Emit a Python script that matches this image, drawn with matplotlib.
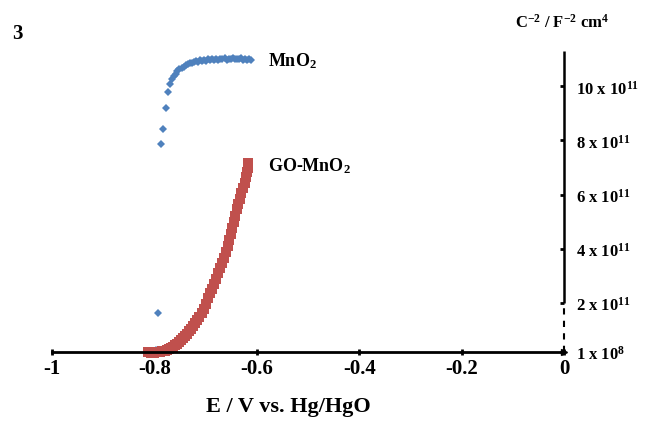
import numpy as np
import matplotlib
matplotlib.use("Agg")
import matplotlib.pyplot as plt

plt.rcParams["font.family"] = ["Liberation Serif", "DejaVu Serif"]
plt.rcParams["font.weight"] = "bold"
plt.rcParams["mathtext.fontset"] = "custom"
plt.rcParams["mathtext.rm"] = "Liberation Serif:bold"
plt.rcParams["mathtext.it"] = "Liberation Serif:bold"
plt.rcParams["mathtext.bf"] = "Liberation Serif:bold"

# Mott-Schottky data, C^-2 in units of 1e11 F^-2 cm^4
mno2_E = [-0.796, -0.792, -0.788, -0.783, -0.778, -0.773, -0.769, -0.765, -0.762,
          -0.758, -0.755, -0.751, -0.747, -0.743, -0.739, -0.735, -0.731, -0.727,
          -0.723, -0.719, -0.715, -0.711, -0.707, -0.703, -0.699, -0.695, -0.691,
          -0.687, -0.683, -0.679, -0.675, -0.671, -0.667, -0.663, -0.659, -0.655,
          -0.651, -0.647, -0.643, -0.639, -0.635, -0.631, -0.627, -0.623, -0.619,
          -0.615, -0.611]
mno2_C = [0.28, 1.62, 7.86, 8.44, 9.20, 9.77, 10.08, 10.25, 10.38,
          10.47, 10.55, 10.62, 10.68, 10.72, 10.78, 10.81, 10.84, 10.87,
          10.88, 10.92, 10.90, 10.95, 10.93, 10.97, 10.94, 10.99, 10.96,
          11.00, 10.97, 11.01, 10.98, 11.02, 10.99, 11.03, 10.98, 11.02,
          11.00, 11.04, 10.99, 11.02, 11.00, 11.03, 10.98, 11.01, 10.97,
          10.99, 10.96]

go_E = [-0.812, -0.806, -0.800, -0.795, -0.790, -0.785, -0.780, -0.776, -0.772,
        -0.768, -0.764, -0.760, -0.756, -0.752, -0.748, -0.744, -0.740, -0.736,
        -0.732, -0.728, -0.724, -0.720, -0.716, -0.712, -0.708, -0.704, -0.700,
        -0.696, -0.692, -0.688, -0.684, -0.680, -0.676, -0.672, -0.668, -0.664,
        -0.660, -0.657, -0.654, -0.651, -0.648, -0.645, -0.642, -0.639, -0.636,
        -0.633, -0.630, -0.627, -0.624, -0.622, -0.620, -0.618, -0.617]
go_C = [0.19, 0.18, 0.18, 0.19, 0.20, 0.22, 0.24, 0.27, 0.31,
        0.35, 0.40, 0.45, 0.51, 0.57, 0.64, 0.71, 0.79, 0.87,
        0.96, 1.05, 1.15, 1.26, 1.37, 1.49, 1.62, 1.79, 1.98,
        2.18, 2.36, 2.53, 2.72, 2.91, 3.10, 3.29, 3.48, 3.67,
        3.88, 4.10, 4.32, 4.54, 4.76, 4.98, 5.20, 5.46, 5.66,
        5.86, 6.05, 6.25, 6.45, 6.64, 6.82, 7.00, 7.18]

x_ticks = [-1, -0.8, -0.6, -0.4, -0.2, 0]
x_labels = ["-1", "-0.8", "-0.6", "-0.4", "-0.2", "0"]
y_ticks = [0.2, 2, 4, 6, 8, 10]
y_labels = [r"1 x 10$^{8}$", r"2 x 10$^{11}$", r"4 x 10$^{11}$",
            r"6 x 10$^{11}$", r"8 x 10$^{11}$", r"10 x 10$^{11}$"]

YBOT, YTOP = 0.2, 11.3

fig = plt.figure(figsize=(6.48, 4.27), dpi=100)
ax = fig.add_axes([52 / 648, 1 - 353 / 427, 512 / 648, (353 - 52) / 427])

ax.plot(mno2_E, mno2_C, "D", color="#4F81BD", markersize=4.5,
        markeredgewidth=0, clip_on=False, zorder=3)
ax.plot(go_E, go_C, "s", color="#C0504D", markersize=6.8,
        markeredgewidth=0, clip_on=False, zorder=3)

ax.set_xlim(-1.0, 0)
ax.set_ylim(YBOT, YTOP)

for s in ["top", "left", "right"]:
    ax.spines[s].set_visible(False)
ax.spines["bottom"].set_linewidth(2)
ax.spines["bottom"].set_zorder(4)

# broken y axis at x = 0
ax.vlines(0, 2, YTOP, color="black", linewidth=1.8, clip_on=False)
ax.vlines(0, YBOT, 2, color="black", linewidth=1.5, linestyles=(0, (3, 3)),
          clip_on=False)
ax.plot(0, YBOT, ">", color="black", markersize=5, clip_on=False, zorder=5)

ax.set_xticks(x_ticks)
ax.set_xticklabels(x_labels, fontsize=15, fontweight="bold")
ax.tick_params(axis="x", direction="inout", length=5, width=2, pad=2)

ax.yaxis.tick_right()
ax.set_yticks(y_ticks)
ax.set_yticklabels(y_labels, fontsize=12, fontweight="bold")
ax.tick_params(axis="y", direction="in", length=3, width=2, pad=9)

ax.text(-0.578, 10.95, r"MnO$_2$", fontsize=13, fontweight="bold",
        va="center", ha="left")
ax.text(-0.578, 7.1, r"GO-MnO$_2$", fontsize=13, fontweight="bold",
        va="center", ha="left")

fig.text(12 / 648, 1 - 34 / 427, "3", fontsize=15, fontweight="bold",
         va="center", ha="left")
fig.text(562 / 648, 1 - 23 / 427, r"C$^{-2}$ / F$^{-2}$ cm$^{4}$",
         fontsize=12, fontweight="bold", va="center", ha="center")
fig.text(288 / 648, 1 - 407 / 427, "E / V vs. Hg/HgO", fontsize=16,
         fontweight="bold", va="center", ha="center")

fig.savefig("out.png", dpi=100)
